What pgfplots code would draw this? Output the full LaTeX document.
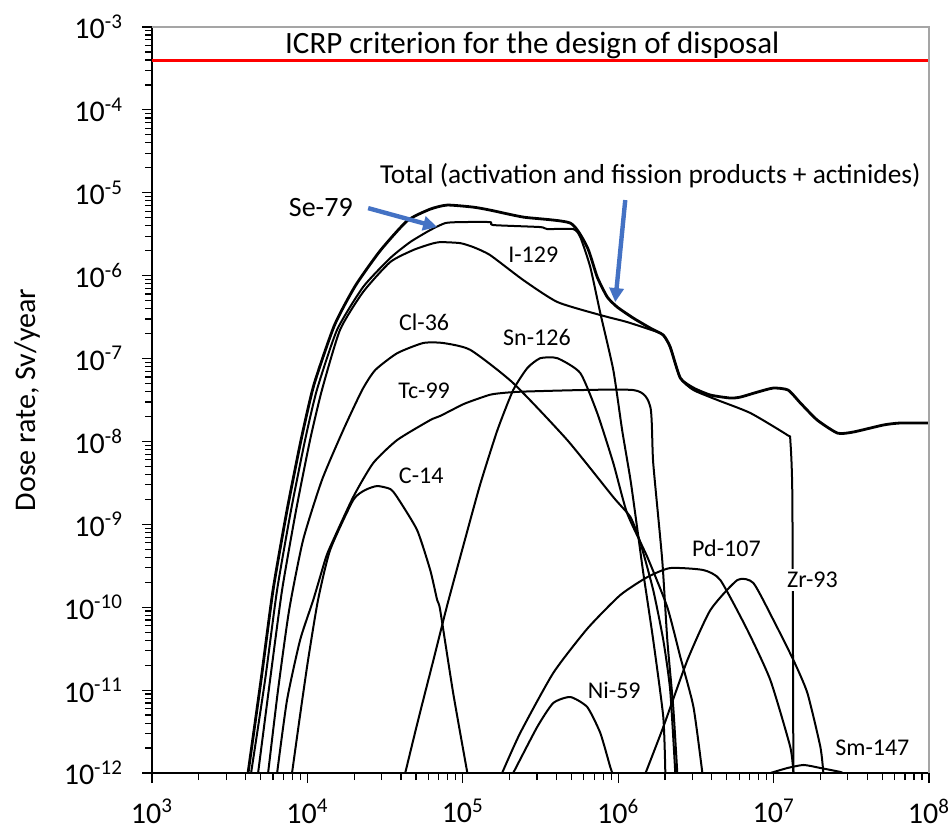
\documentclass[border=0pt]{standalone}
\usepackage{fontspec}
\setmainfont{Carlito}
\usepackage{pgfplots}
\pgfplotsset{compat=1.18}
\usetikzlibrary{arrows.meta}
\definecolor{arrowblue}{RGB}{68,114,196}
\definecolor{framegray}{RGB}{165,165,165}

\begin{document}
\begin{tikzpicture}
\useasboundingbox (-76pt,-28.5pt) rectangle (400pt,386.5pt);
\begin{axis}[
  xmode=log, ymode=log,
  scale only axis, width=388.5pt, height=373pt,
  xmin=1e3, xmax=1e8, ymin=1e-12, ymax=1e-3,
  axis lines=left, axis line style={-, black, line width=1pt},
  tick align=outside, major tick length=5pt, minor tick length=3.5pt,
  every tick/.append style={black, line width=0.6pt},
  xtick={1e3,1e4,1e5,1e6,1e7,1e8},
  xticklabels={10\textsuperscript{3},10\textsuperscript{4},10\textsuperscript{5},10\textsuperscript{6},10\textsuperscript{7},10\textsuperscript{8}},
  minor xtick={2e3,3e3,4e3,5e3,6e3,7e3,8e3,9e3,2e4,3e4,4e4,5e4,6e4,7e4,8e4,9e4,2e5,3e5,4e5,5e5,6e5,7e5,8e5,9e5,2e6,3e6,4e6,5e6,6e6,7e6,8e6,9e6,2e7,3e7,4e7,5e7,6e7,7e7,8e7,9e7},
  ytick={1e-12,1e-11,1e-10,1e-9,1e-8,1e-7,1e-6,1e-5,1e-4,1e-3},
  yticklabels={10\textsuperscript{-12},10\textsuperscript{-11},10\textsuperscript{-10},10\textsuperscript{-9},10\textsuperscript{-8},10\textsuperscript{-7},10\textsuperscript{-6},10\textsuperscript{-5},10\textsuperscript{-4},10\textsuperscript{-3}},
  minor ytick={2e-12,3e-12,4e-12,5e-12,6e-12,7e-12,8e-12,9e-12,2e-11,3e-11,4e-11,5e-11,6e-11,7e-11,8e-11,9e-11,2e-10,3e-10,4e-10,5e-10,6e-10,7e-10,8e-10,9e-10,2e-9,3e-9,4e-9,5e-9,6e-9,7e-9,8e-9,9e-9,2e-8,3e-8,4e-8,5e-8,6e-8,7e-8,8e-8,9e-8,2e-7,3e-7,4e-7,5e-7,6e-7,7e-7,8e-7,9e-7,2e-6,3e-6,4e-6,5e-6,6e-6,7e-6,8e-6,9e-6,2e-5,3e-5,4e-5,5e-5,6e-5,7e-5,8e-5,9e-5,2e-4,3e-4,4e-4,5e-4,6e-4,7e-4,8e-4,9e-4},
  ticklabel style={font=\fontsize{15}{18}\selectfont},
  xticklabel style={yshift=-4.5pt},
  yticklabel style={xshift=-6pt},
  ylabel={Dose rate, Sv/year},
  ylabel style={font=\fontsize{15}{18}\selectfont, at={(axis description cs:-0.1596,0.5)}, anchor=center},
  clip=false,
  curve/.style={black, solid, no markers, line width=1pt, line join=round, smooth, tension=0.35},
]
% ICRP criterion
\addplot[red, no markers, line width=1.5pt] coordinates {(1e3,3.9e-4) (1e8,3.9e-4)};

% Total
\addplot[curve, line width=1.4pt] coordinates {
(4150,1e-12) (5030,1.32e-11) (6010,1.61e-10) (7400,1.49e-9) (9100,1.04e-8)
(1.10e4,4.79e-8) (1.49e4,2.5e-7) (2.03e4,7.5e-7) (2.94e4,2.0e-6) (4.39e4,4.6e-6)
(6.17e4,6.35e-6) (7.94e4,7.11e-6) (1.17e5,6.71e-6)
(1.50e5,6.18e-6) (2.45e5,5.09e-6) (4.92e5,4.31e-6) (6.32e5,2.21e-6) (7.33e5,9.62e-7)
(8.51e5,5.52e-7) (9.86e5,4.18e-7) (1.25e6,3.08e-7) (1.61e6,2.33e-7) (1.95e6,1.92e-7)
(2.16e6,1.38e-7) (2.51e6,5.82e-8) (3.05e6,4.41e-8) (3.92e6,3.63e-8) (5.27e6,3.34e-8)
(6.11e6,3.43e-8) (7.87e6,3.94e-8) (9.97e6,4.41e-8) (1.24e7,4.17e-8) (1.49e7,2.90e-8)
(1.91e7,1.81e-8) (2.58e7,1.26e-8) (3.26e7,1.30e-8) (5.09e7,1.58e-8) (6.55e7,1.67e-8)
(1e8,1.67e-8)};

% Se-79
\addplot[curve] coordinates {
(4340,1e-12) (5340,1.32e-11) (6380,1.61e-10) (7850,1.49e-9) (9660,1.04e-8)
(1.15e4,4.17e-8) (1.55e4,2.21e-7) (2.28e4,7.28e-7) (3.41e4,1.63e-6) (4.58e4,2.54e-6)
(6.17e4,3.55e-6) (7.71e4,4.31e-6) (9.62e4,4.43e-6)
(1.50e5,4.43e-6) (1.57e5,4.08e-6) (3.15e5,3.86e-6) (3.49e5,3.65e-6) (5.14e5,3.65e-6)
(5.70e5,2.92e-6) (6.61e5,1.27e-6) (7.67e5,3.54e-7) (9.30e5,7.26e-8) (1.06e6,1.37e-8)
(1.20e6,3.42e-9) (1.33e6,8.53e-10) (1.45e6,2.59e-10) (1.68e6,4.02e-11) (1.95e6,4.74e-12)
(2.01e6,1e-12)};

% I-129
\addplot[curve] coordinates {
(4815,1e-12) (5750,1.32e-11) (6870,1.61e-10) (8460,1.49e-9) (1.04e4,1.04e-8)
(1.24e4,4.17e-8) (1.62e4,2.21e-7) (2.28e4,6.34e-7) (3.41e4,1.46e-6) (4.80e4,2.04e-6)
(6.17e4,2.40e-6) (7.15e4,2.54e-6) (9.62e4,2.47e-6)
(1.17e5,2.21e-6) (1.50e5,1.77e-6) (2.45e5,8.85e-7) (4.06e5,4.81e-7) (7.67e5,3.35e-7)
(1.14e6,2.76e-7) (1.79e6,2.09e-7) (1.95e6,1.92e-7) (2.16e6,1.38e-7) (2.51e6,5.82e-8)
(3.05e6,4.17e-8) (4.35e6,3.16e-8) (7.10e6,2.20e-8) (1.23e7,1.19e-8) (1.28e7,1.04e-8)
(1.32e7,2.13e-9) (1.34e7,1e-12)};

% Cl-36
\addplot[curve] coordinates {
(5585,1e-12) (6470,1.0e-11) (7630,9.25e-11) (9380,6.47e-10) (1.24e4,3.42e-9)
(1.70e4,1.37e-8) (2.25e4,4.17e-8) (2.73e4,7.26e-8)
(3.78e4,1.16e-7) (5.56e4,1.54e-7) (7.48e4,1.54e-7) (1.12e5,1.27e-7) (2.11e5,5.06e-8)
(4.70e5,1.04e-8) (9.30e5,2.13e-9) (1.20e6,1.22e-9) (1.39e6,5.95e-10) (1.68e6,1.61e-10)
(1.95e6,4.02e-11) (2.16e6,1.0e-11) (2.33e6,1e-12)};

% Tc-99
\addplot[curve] coordinates {
(6383,1e-12) (7396,7.6e-12) (8974,4.02e-11) (1.09e4,1.22e-10) (1.30e4,3.71e-10)
(1.40e4,5.33e-10) (1.97e4,2.13e-9) (2.65e4,5.48e-9) (3.78e4,1.04e-8) (6.17e4,1.81e-8)
(7.15e4,2.03e-8) (1.01e5,2.82e-8) (1.29e5,3.34e-8) (1.57e5,3.73e-8) (2.5e5,4.0e-8)
(1.25e6,4.17e-8)
(1.61e6,2.60e-8) (1.68e6,5.48e-9) (1.92e6,3.71e-10) (2.07e6,4.02e-11) (2.26e6,6.25e-12)
(2.40e6,1e-12)};

% C-14
\addplot[curve] coordinates {
(7964,1e-12) (8974,5.01e-12) (1.01e4,2.31e-11) (1.17e4,1.22e-10) (1.40e4,4.90e-10)
(1.97e4,1.96e-9) (2.35e4,2.59e-9) (2.81e4,2.90e-9) (3.41e4,2.67e-9) (3.78e4,2.13e-9)
(5.08e4,8.53e-10) (6.17e4,2.81e-10) (6.84e4,1.22e-10) (7.15e4,9.25e-11) (8.67e4,9.22e-12)
(1.07e5,1e-12)};

% Sn-126
\addplot[curve] coordinates {
(4.26e4,1e-12) (5.16e4,4.36e-12) (6.35e4,2.01e-11) (7.94e4,1.06e-10) (1.01e5,5.62e-10)
(1.29e5,2.98e-9) (1.67e5,1.37e-8) (2.11e5,4.17e-8) (2.60e5,7.68e-8) (3.15e5,1.01e-7)
(4.06e5,1.01e-7) (5.70e5,6.69e-8) (7.33e5,2.20e-8) (9.30e5,5.48e-9) (1.14e6,1.37e-9)
(1.54e6,4.03e-10) (2.07e6,1.0e-10) (2.51e6,2.51e-11) (3.05e6,6.25e-12) (3.48e6,1e-12)};

% Ni-59
\addplot[curve] coordinates {
(2.11e5,1e-12) (3.01e5,3.59e-12) (3.82e5,6.99e-12) (4.92e5,8.26e-12) (6.32e5,6.25e-12)
(7.67e5,3.04e-12) (8.89e5,1.18e-12) (9.17e5,1e-12)};

% Pd-107
\addplot[curve] coordinates {
(1.79e5,1e-12) (2.34e5,3.04e-12) (3.82e5,1.61e-11) (6.32e5,5.5e-11) (1.03e6,1.40e-10)
(1.54e6,2.31e-10) (2.16e6,2.97e-10) (3.53e6,2.81e-10) (4.54e6,2.13e-10) (6.78e6,5.31e-11)
(9.53e6,1.32e-11) (1.28e7,2.06e-12) (1.34e7,1e-12)};

% Zr-93
\addplot[curve] coordinates {
(1.50e6,1e-12) (1.95e6,3.59e-12) (2.79e6,2.31e-11) (3.92e6,9.25e-11) (5.85e6,2.13e-10)
(7.41e6,1.96e-10) (9.97e6,7.01e-11) (1.34e7,2.31e-11) (1.65e7,9.22e-12) (2.00e7,2.06e-12)
(2.09e7,1e-12)};

% Sm-147
\addplot[curve] coordinates {
(9.53e6,1e-12) (1.23e7,1.15e-12) (1.56e7,1.25e-12) (2.00e7,1.15e-12) (2.69e7,1.03e-12)
(2.77e7,1e-12)};

% frame top and right
\draw[framegray, line width=0.8pt] (rel axis cs:0,1) -- (rel axis cs:1,1) -- (rel axis cs:1,0);

% labels
\node[font=\fontsize{15.5}{18}\selectfont] at (axis cs:2.8e5,6.05e-4) {ICRP criterion for the design of disposal};
\node[fill=white, inner sep=3pt, font=\fontsize{13.7}{16}\selectfont] at (axis cs:1.61e6,1.59e-5) {Total (activation and fission products + actinides)};
\node[font=\fontsize{14}{16}\selectfont] at (axis cs:1.22e4,6.7e-6) {Se-79};
\node[font=\fontsize{12}{14}\selectfont] at (axis cs:2.84e5,1.77e-6) {I-129};
\node[font=\fontsize{12}{14}\selectfont] at (axis cs:5.64e4,2.75e-7) {Cl-36};
\node[font=\fontsize{12}{14}\selectfont] at (axis cs:3.0e5,1.82e-7) {Sn-126};
\node[font=\fontsize{12}{14}\selectfont] at (axis cs:5.64e4,4.06e-8) {Tc-99};
\node[font=\fontsize{12}{14}\selectfont] at (axis cs:5.4e4,3.83e-9) {C-14};
\node[font=\fontsize{12}{14}\selectfont] at (axis cs:4.97e6,5.2e-10) {Pd-107};
\node[fill=white, inner sep=1.5pt, font=\fontsize{12}{14}\selectfont] at (axis cs:1.78e7,2.13e-10) {Zr-93};
\node[font=\fontsize{12}{14}\selectfont] at (axis cs:9.44e5,1.0e-11) {Ni-59};
\node[font=\fontsize{12}{14}\selectfont] at (axis cs:4.32e7,2.0e-12) {Sm-147};

% arrows
\draw[arrowblue, line width=2.2pt, -{Triangle[length=7pt,width=7pt]}] (axis cs:2.46e4,6.53e-6) -- (axis cs:6.84e4,3.86e-6);
\draw[arrowblue, line width=2.2pt, -{Triangle[length=7pt,width=7pt]}] (axis cs:1.11e6,8.17e-6) -- (axis cs:9.57e5,4.8e-7);
\end{axis}
\end{tikzpicture}
\end{document}
